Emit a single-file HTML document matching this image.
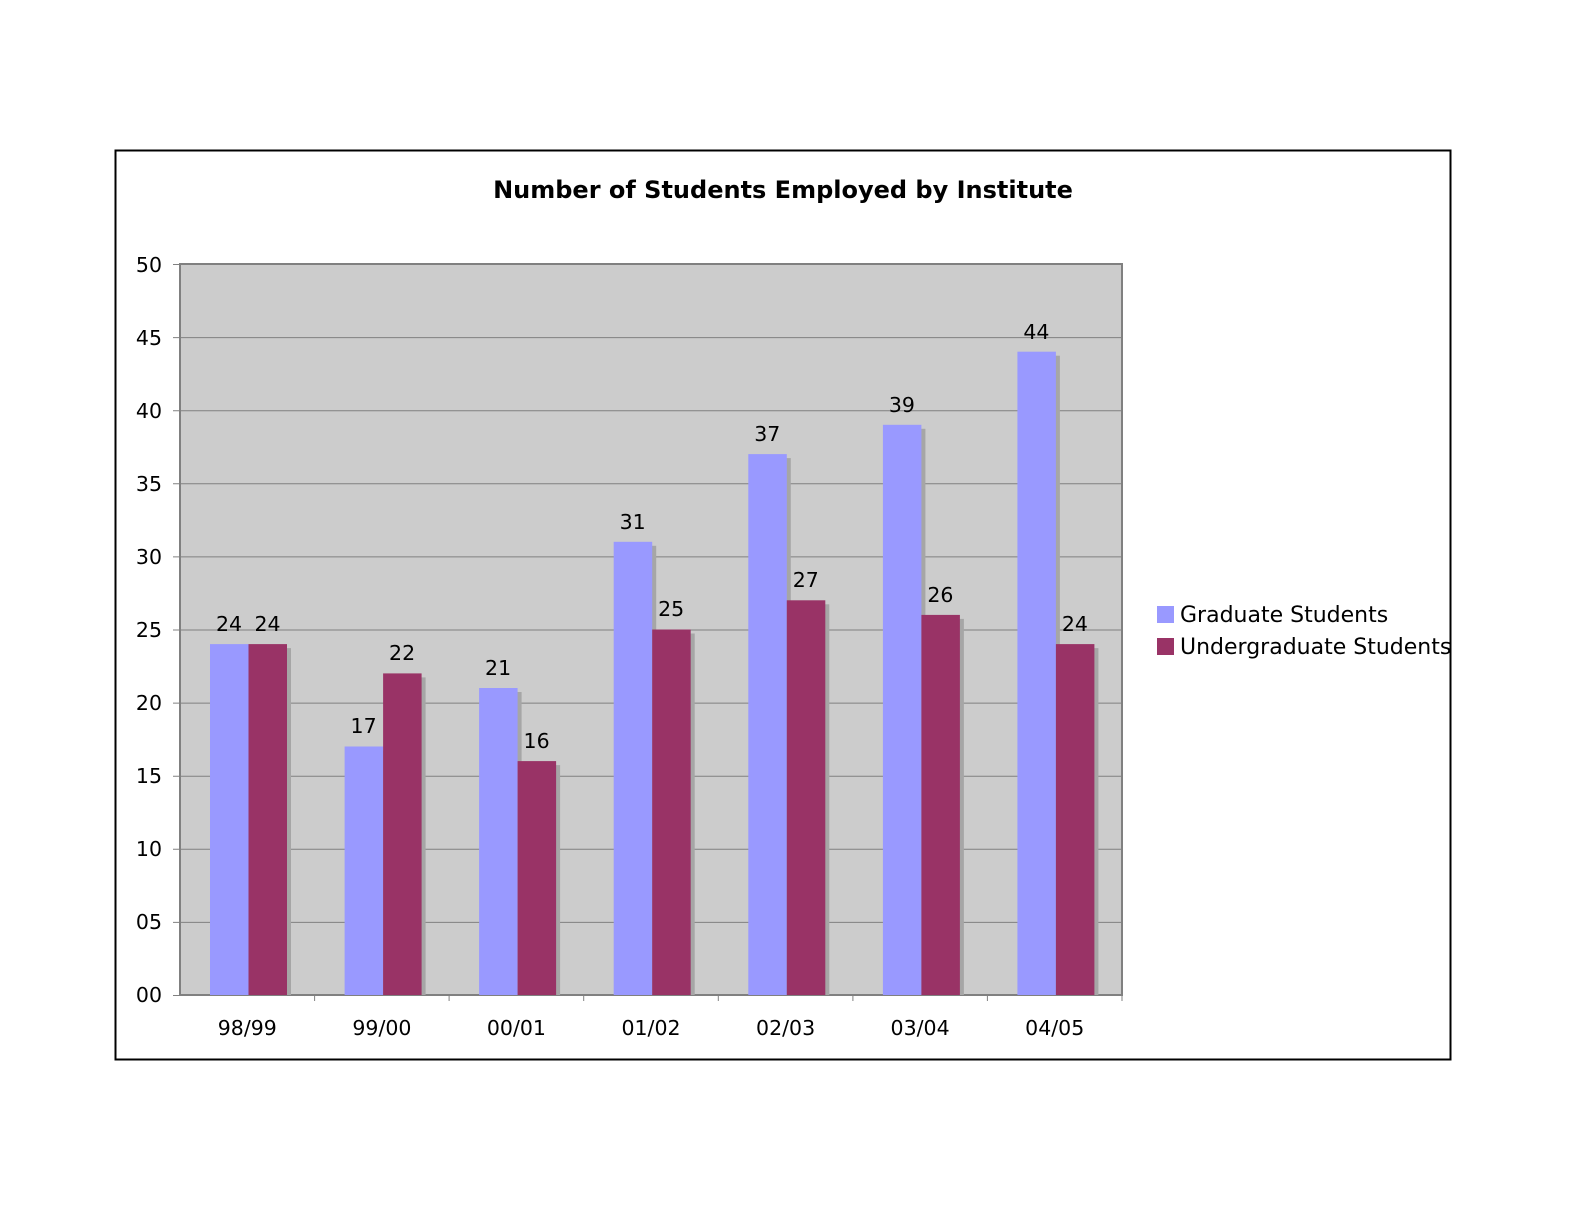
<!DOCTYPE html>
<html><head><meta charset="utf-8"><style>
html,body{margin:0;padding:0;background:#fff;}
svg{display:block;font-family:"DejaVu Sans","Liberation Sans",sans-serif;}
</style></head><body>
<svg width="1584" height="1224" viewBox="0 0 1584 1224" xmlns="http://www.w3.org/2000/svg">
<rect x="0" y="0" width="1584" height="1224" fill="#fff"/>
<rect x="115.5" y="150.5" width="1335" height="909" fill="#fff" stroke="#000" stroke-width="2"/>
<text x="783" y="198" text-anchor="middle" font-size="24" font-weight="bold">Number of Students Employed by Institute</text>
<rect x="180" y="264" width="942" height="731" fill="#cccccc" stroke="#808080" stroke-width="2"/>
<g stroke="#808080" stroke-width="1">
<line x1="173" y1="264.5" x2="1122" y2="264.5"/>
<line x1="173" y1="337.6" x2="1122" y2="337.6"/>
<line x1="173" y1="410.7" x2="1122" y2="410.7"/>
<line x1="173" y1="483.8" x2="1122" y2="483.8"/>
<line x1="173" y1="556.9" x2="1122" y2="556.9"/>
<line x1="173" y1="630" x2="1122" y2="630"/>
<line x1="173" y1="703.1" x2="1122" y2="703.1"/>
<line x1="173" y1="776.2" x2="1122" y2="776.2"/>
<line x1="173" y1="849.3" x2="1122" y2="849.3"/>
<line x1="173" y1="922.4" x2="1122" y2="922.4"/>
<line x1="173" y1="995.5" x2="1122" y2="995.5"/>
<line x1="314.6" y1="995" x2="314.6" y2="1001"/>
<line x1="449.1" y1="995" x2="449.1" y2="1001"/>
<line x1="583.7" y1="995" x2="583.7" y2="1001"/>
<line x1="718.3" y1="995" x2="718.3" y2="1001"/>
<line x1="852.9" y1="995" x2="852.9" y2="1001"/>
<line x1="987.4" y1="995" x2="987.4" y2="1001"/>
<line x1="1122" y1="995" x2="1122" y2="1001"/>
</g>
<g font-size="20.5" text-anchor="end" fill="#000">
<text x="162" y="272">50</text><text x="162" y="345">45</text><text x="162" y="418">40</text>
<text x="162" y="491">35</text><text x="162" y="564">30</text><text x="162" y="637">25</text>
<text x="162" y="710">20</text><text x="162" y="783">15</text><text x="162" y="856">10</text>
<text x="162" y="929">05</text><text x="162" y="1002">00</text>
</g>
<g fill="#a6a6a6">
<rect x="214" y="648.1" width="38.5" height="346.9"/><rect x="252.5" y="648.1" width="38.5" height="346.9"/>
<rect x="348.6" y="750.5" width="38.5" height="244.5"/><rect x="387.1" y="677.4" width="38.5" height="317.6"/>
<rect x="483.1" y="692" width="38.5" height="303"/><rect x="521.6" y="765.1" width="38.5" height="229.9"/>
<rect x="617.7" y="545.8" width="38.5" height="449.2"/><rect x="656.2" y="633.5" width="38.5" height="361.5"/>
<rect x="752.3" y="458.1" width="38.5" height="536.9"/><rect x="790.8" y="604.3" width="38.5" height="390.7"/>
<rect x="886.9" y="428.8" width="38.5" height="566.2"/><rect x="925.4" y="618.9" width="38.5" height="376.1"/>
<rect x="1021.4" y="355.7" width="38.5" height="639.3"/><rect x="1059.9" y="648.1" width="38.5" height="346.9"/>
</g>
<g fill="#9999ff">
<rect x="210" y="644.1" width="38.5" height="350.9"/>
<rect x="344.6" y="746.5" width="38.5" height="248.5"/>
<rect x="479.1" y="688" width="38.5" height="307"/>
<rect x="613.7" y="541.8" width="38.5" height="453.2"/>
<rect x="748.3" y="454.1" width="38.5" height="540.9"/>
<rect x="882.9" y="424.8" width="38.5" height="570.2"/>
<rect x="1017.4" y="351.7" width="38.5" height="643.3"/>
</g>
<g fill="#993366">
<rect x="248.5" y="644.1" width="38.5" height="350.9"/>
<rect x="383.1" y="673.4" width="38.5" height="321.6"/>
<rect x="517.6" y="761.1" width="38.5" height="233.9"/>
<rect x="652.2" y="629.5" width="38.5" height="365.5"/>
<rect x="786.8" y="600.3" width="38.5" height="394.7"/>
<rect x="921.4" y="614.9" width="38.5" height="380.1"/>
<rect x="1055.9" y="644.1" width="38.5" height="350.9"/>
</g>
<g font-size="20.5" text-anchor="middle">
<text x="229" y="631">24</text><text x="267.5" y="631">24</text>
<text x="363.6" y="733">17</text><text x="402.1" y="660">22</text>
<text x="498.1" y="675">21</text><text x="536.6" y="748">16</text>
<text x="632.7" y="529">31</text><text x="671.2" y="616">25</text>
<text x="767.3" y="441">37</text><text x="805.8" y="587">27</text>
<text x="901.9" y="412">39</text><text x="940.4" y="602">26</text>
<text x="1036.4" y="339">44</text><text x="1074.9" y="631">24</text>
</g>
<g font-size="20.5" text-anchor="middle">
<text x="247.3" y="1035">98/99</text><text x="381.9" y="1035">99/00</text><text x="516.4" y="1035">00/01</text>
<text x="651" y="1035">01/02</text><text x="785.6" y="1035">02/03</text><text x="920.1" y="1035">03/04</text>
<text x="1054.7" y="1035">04/05</text>
</g>
<rect x="1157" y="606" width="17" height="17" fill="#9999ff"/>
<text x="1180" y="622" font-size="22">Graduate Students</text>
<rect x="1157" y="638" width="17" height="17" fill="#993366"/>
<text x="1180" y="654" font-size="22">Undergraduate Students</text>
</svg>
</body></html>
